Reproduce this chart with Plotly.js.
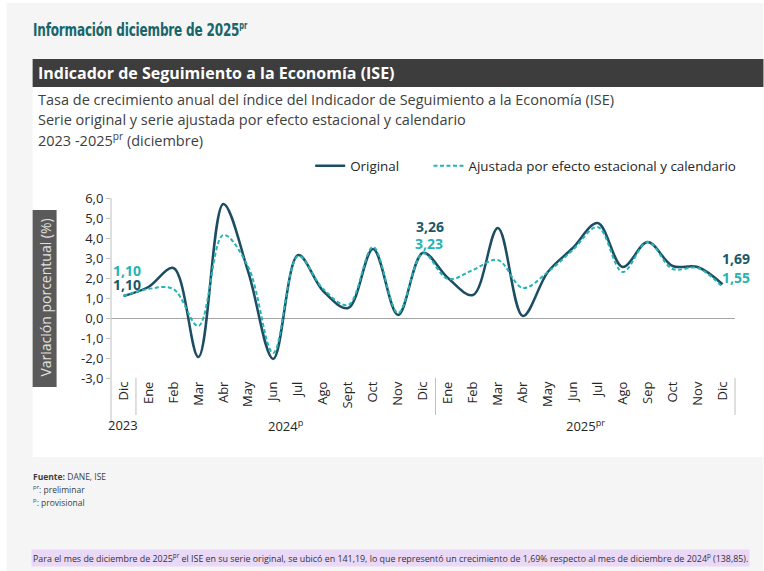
<!DOCTYPE html>
<html>
<head>
<meta charset="utf-8">
<script src="https://cdn.plot.ly/plotly-3.0.1.min.js"></script>
<style>
  html, body { margin:0; padding:0; background:#ffffff; }
  #wrap { position:relative; width:764px; height:571px; }
  #chart { position:absolute; left:0; top:0; width:764px; height:571px; }
  #title { position:absolute; left:33px; top:19px; white-space:nowrap; transform-origin:0 0;
           font-family:'DejaVu Sans', sans-serif; font-weight:bold; font-size:18px; color:#17666c;
           letter-spacing:-0.3px; line-height:22px; }
  #title sup { font-size:10px; vertical-align:7px; line-height:0; }
</style>
</head>
<body>
<div id="wrap">
  <div id="chart"></div>
  <div id="title">Información diciembre de 2025<sup>pr</sup></div>
</div>
<script>
// ---- Data ----
const months = ['Dic','Ene','Feb','Mar','Abr','May','Jun','Jul','Ago','Sept','Oct','Nov','Dic',
                'Ene','Feb','Mar','Abr','May','Jun','Jul','Ago','Sep','Oct','Nov','Dic'];
const years = ['2023', '2024<sup>p</sup>', '2025<sup>pr</sup>'];
const original = [1.10, 1.55, 2.50, -1.95, 5.70, 2.30, -2.05, 3.15, 1.35, 0.50, 3.45, 0.15, 3.26,
                  2.00, 1.15, 4.50, 0.10, 2.30, 3.50, 4.75, 2.55, 3.80, 2.60, 2.55, 1.69];
const ajustada = [1.10, 1.45, 1.45, -0.40, 4.15, 2.55, -1.75, 3.10, 1.45, 0.65, 3.55, 0.25, 3.23,
                  1.95, 2.40, 2.90, 1.50, 2.30, 3.40, 4.55, 2.30, 3.80, 2.45, 2.50, 1.55];
const yTicks = [-3, -2, -1, 0, 1, 2, 3, 4, 5, 6];
const labelIdx = [0, 12, 24];

// ---- Styles ----
const DARK = '#1d4d63';
const TEAL = '#25b3b3';
const FONT = 'Open Sans, DejaVu Sans, sans-serif';
const W = 764, H = 571;
const L = 110.5, R = 28.5, T = 198, B = 193;
const pw = W - L - R, ph = H - T - B;
const n = months.length;
const fmt = v => v.toFixed(2).replace('.', ',');
const tickFmt = v => v.toFixed(1).replace('.', ',');
const px2x = px => (px - L) / pw;
const px2y = py => (H - B - py) / ph;
const idx = months.map((m, i) => i);

const traces = [
  { x: idx, y: original, type: 'scatter', mode: 'lines', name: 'Original' + '\u00a0'.repeat(7),
    line: { color: DARK, width: 2.5, shape: 'spline', smoothing: 1 } },
  { x: idx, y: ajustada, type: 'scatter', mode: 'lines', name: 'Ajustada por efecto estacional y calendario',
    line: { color: TEAL, width: 2, dash: '4px,2.5px', shape: 'spline', smoothing: 1 } }
];

const shapes = [
  { type:'rect', xref:'paper', yref:'paper', x0:px2x(6), x1:px2x(764), y0:px2y(571), y1:px2y(3),
    fillcolor:'#f5f5f5', line:{width:0}, layer:'below' },
  { type:'rect', xref:'paper', yref:'paper', x0:px2x(32), x1:px2x(764), y0:px2y(457), y1:px2y(87),
    fillcolor:'#ffffff', line:{width:0}, layer:'below' },
  { type:'rect', xref:'paper', yref:'paper', x0:px2x(32), x1:px2x(764), y0:px2y(87), y1:px2y(59),
    fillcolor:'#3d3d3d', line:{width:0}, layer:'below' },
  { type:'rect', xref:'paper', yref:'paper', x0:px2x(32), x1:px2x(56), y0:px2y(387), y1:px2y(210),
    fillcolor:'#5a5a5a', line:{width:0}, layer:'below' },
  { type:'line', xref:'paper', yref:'paper', x0:0, x1:0, y0:px2y(423), y1:px2y(198),
    line:{color:'#bfbfbf', width:1} },
  { type:'line', xref:'paper', yref:'paper', x0:1/n, x1:1/n, y0:px2y(415), y1:px2y(378),
    line:{color:'#bfbfbf', width:1} },
  { type:'line', xref:'paper', yref:'paper', x0:13/n, x1:13/n, y0:px2y(415), y1:px2y(378),
    line:{color:'#bfbfbf', width:1} },
  { type:'line', xref:'paper', yref:'paper', x0:1, x1:1, y0:px2y(415), y1:px2y(378),
    line:{color:'#bfbfbf', width:1} }
];

const annotations = [
  { xref:'paper', yref:'paper', x:px2x(35), y:px2y(73), xanchor:'left', yanchor:'middle', showarrow:false,
    text:'<b>Indicador de Seguimiento a la Economía (ISE)</b>',
    font:{family:FONT, size:16, color:'#ffffff'} },
  { xref:'paper', yref:'paper', x:px2x(35), y:px2y(100), xanchor:'left', yanchor:'middle', showarrow:false,
    text:'Tasa de crecimiento anual del índice del Indicador de Seguimiento a la Economía (ISE)',
    font:{family:FONT, size:14.5, color:'#404040'} },
  { xref:'paper', yref:'paper', x:px2x(35), y:px2y(119), xanchor:'left', yanchor:'middle', showarrow:false,
    text:'Serie original y serie ajustada por efecto estacional y calendario',
    font:{family:FONT, size:14.5, color:'#404040'} },
  { xref:'paper', yref:'paper', x:px2x(35), y:px2y(139), xanchor:'left', yanchor:'middle', showarrow:false,
    text:'2023 -2025<sup>pr</sup> (diciembre)',
    font:{family:FONT, size:14.5, color:'#404040'} },
  { xref:'paper', yref:'paper', x:px2x(44), y:px2y(298), xanchor:'center', yanchor:'middle', showarrow:false,
    textangle:-90, text:'Variación porcentual (%)',
    font:{family:FONT, size:14, color:'#e0e0e0'} },
  { xref:'x', yref:'paper', x:0, y:px2y(425), xanchor:'center', yanchor:'middle', showarrow:false,
    text:years[0], font:{family:FONT, size:13, color:'#262626'} },
  { xref:'x', yref:'paper', x:6.5, y:px2y(425), xanchor:'center', yanchor:'middle', showarrow:false,
    text:years[1], font:{family:FONT, size:13, color:'#262626'} },
  { xref:'x', yref:'paper', x:18.5, y:px2y(425), xanchor:'center', yanchor:'middle', showarrow:false,
    text:years[2], font:{family:FONT, size:13, color:'#262626'} },
  { xref:'paper', yref:'paper', x:px2x(30), y:px2y(476), xanchor:'left', yanchor:'middle', showarrow:false,
    text:'<b>Fuente:</b> DANE, ISE', font:{family:FONT, size:8.5, color:'#404040'} },
  { xref:'paper', yref:'paper', x:px2x(30), y:px2y(489), xanchor:'left', yanchor:'middle', showarrow:false,
    text:'<sup>pr</sup>: preliminar', font:{family:FONT, size:8.5, color:'#404040'} },
  { xref:'paper', yref:'paper', x:px2x(30), y:px2y(502), xanchor:'left', yanchor:'middle', showarrow:false,
    text:'<sup>p</sup>: provisional', font:{family:FONT, size:8.5, color:'#404040'} },
  { xref:'paper', yref:'paper', x:px2x(30), y:px2y(558), xanchor:'left', yanchor:'middle', showarrow:false,
    text:'Para el mes de diciembre de 2025<sup>pr</sup> el ISE en su serie original, se ubicó en 141,19, lo que representó un crecimiento de 1,69% respecto al mes de diciembre de 2024<sup>p</sup> (138,85).',
    bgcolor:'#ead8f7', borderpad:1,
    font:{family:FONT, size:8.9, color:'#333333'} }
];

const shiftsO = [[4, 12], [7, 26], [13, 26]];
const shiftsA = [[4, 26], [6, 10], [13, 10]];
labelIdx.forEach((i, k) => {
  annotations.push({ xref:'x', yref:'y', x:i, y:original[i], showarrow:false,
    xshift:shiftsO[k][0], yshift:shiftsO[k][1], text:'<b>' + fmt(original[i]) + '</b>',
    font:{family:FONT, size:14, color:'#1c5866'} });
  annotations.push({ xref:'x', yref:'y', x:i, y:ajustada[i], showarrow:false,
    xshift:shiftsA[k][0], yshift:shiftsA[k][1], text:'<b>' + fmt(ajustada[i]) + '</b>',
    font:{family:FONT, size:14, color:TEAL} });
});

const layout = {
  width: W, height: H,
  margin: { l: L, r: R, t: T, b: B, pad: 0 },
  paper_bgcolor: '#ffffff',
  plot_bgcolor: 'rgba(0,0,0,0)',
  font: { family: FONT, color: '#404040' },
  showlegend: true,
  legend: { orientation: 'h', x: px2x(310), y: px2y(166), xanchor: 'left', yanchor: 'middle',
            font: { family: FONT, size: 13.4, color: '#262626' }, bgcolor: 'rgba(0,0,0,0)',
            traceorder: 'normal' },
  xaxis: { range: [-0.5, n - 0.5], tickmode: 'array', tickvals: idx, ticktext: months,
           tickangle: -90, showgrid: false, zeroline: false, showline: false, ticks: '',
           tickfont: { family: FONT, size: 13, color: '#262626' }, fixedrange: true },
  yaxis: { range: [-3, 6], tickmode: 'array', tickvals: yTicks, ticktext: yTicks.map(tickFmt),
           showgrid: false, zeroline: true, zerolinecolor: '#a6a6a6', zerolinewidth: 1,
           showline: false, ticks: 'outside', ticklen: 4, tickcolor: '#bfbfbf',
           tickfont: { family: FONT, size: 13, color: '#262626' }, fixedrange: true },
  shapes: shapes,
  annotations: annotations
};

Plotly.newPlot('chart', traces, layout, { displayModeBar: false, staticPlot: true });

// fit the condensed-looking page title to the reference width
const t = document.getElementById('title');
const tw = t.getBoundingClientRect().width;
t.style.transform = 'scaleX(' + (214 / tw) + ')';
</script>
</body>
</html>
